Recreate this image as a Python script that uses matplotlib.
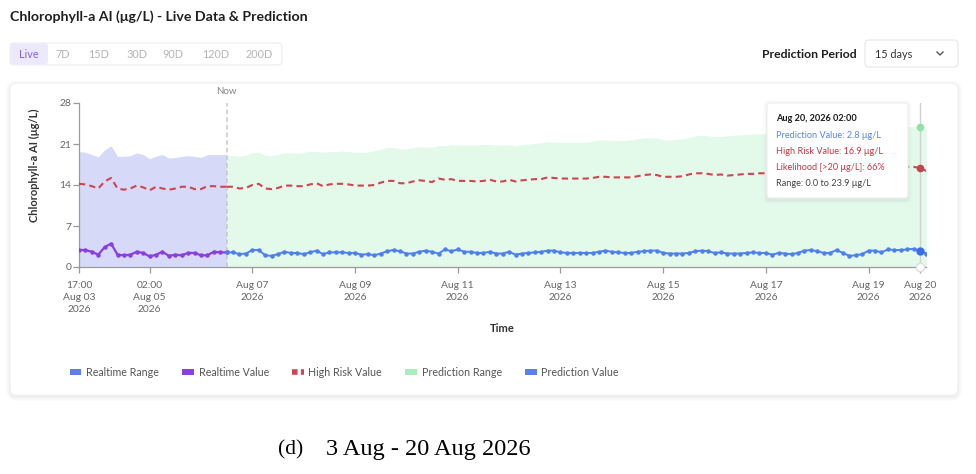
import numpy as np
import matplotlib
matplotlib.use("Agg")
import matplotlib.pyplot as plt
from matplotlib.patches import FancyBboxPatch
from matplotlib.lines import Line2D
from matplotlib.transforms import IdentityTransform

plt.rcParams['font.family'] = ['Lato', 'DejaVu Sans']

# ---- data (3-hourly, starting 2026-08-03 17:00) ----
start = np.datetime64('2026-08-03T17:00')
step = np.timedelta64(3, 'h')

realtime_value = [2.9, 2.9, 2.6, 2.1, 3.4, 4.0, 2.1, 2.0, 2.1, 2.6, 2.4, 1.8,
                  2.1, 2.6, 1.9, 2.1, 2.0, 2.4, 2.4, 2.0, 2.0, 2.6, 2.5, 2.5]
realtime_high_risk = [14.2, 14.1, 13.8, 13.4, 14.6, 15.2, 13.4, 13.2, 13.4, 13.9, 13.6, 13.1,
                      13.7, 13.4, 13.2, 13.4, 13.7, 13.7, 13.3, 13.3, 13.8, 13.8, 13.7, 13.7]
realtime_upper = [19.7, 19.6, 19.2, 18.8, 20.0, 20.7, 18.9, 18.9, 19.0, 19.5, 19.2, 18.5,
                  18.9, 19.2, 18.6, 18.7, 18.9, 19.0, 18.9, 18.7, 19.2, 19.2, 19.2, 19.2]

pred_value = [2.5, 2.5, 2.2, 2.3, 2.9, 2.9, 2.0, 1.9, 2.2, 2.6,
              2.4, 2.4, 2.2, 2.5, 2.8, 2.2, 2.5, 2.5, 2.5, 2.4,
              2.4, 2.1, 2.2, 2.0, 2.3, 2.7, 2.9, 2.7, 2.3, 2.3,
              2.6, 2.8, 2.6, 2.3, 3.0, 2.7, 3.0, 2.6, 2.6, 2.4,
              2.4, 2.6, 2.3, 2.3, 2.6, 2.1, 2.3, 2.4, 2.5, 2.6,
              2.8, 2.8, 2.5, 2.4, 2.4, 2.4, 2.4, 2.4, 2.6, 2.8,
              2.6, 2.5, 2.4, 2.4, 2.6, 2.7, 2.8, 2.8, 2.4, 2.3,
              2.3, 2.3, 2.4, 2.7, 2.8, 2.7, 2.4, 2.5, 2.3, 2.3,
              2.3, 2.4, 2.5, 2.4, 2.4, 2.1, 2.4, 2.3, 2.2, 2.4,
              2.8, 2.9, 2.7, 2.4, 2.4, 2.9, 2.4, 1.9, 2.0, 2.2,
              2.8, 2.8, 2.5, 3.0, 2.9, 2.9, 3.0, 3.1, 2.8, 2.3]
pred_high_risk = [13.7, 13.7, 13.4, 13.5, 14.0, 14.2, 13.4, 13.3, 13.5, 13.9,
                  13.9, 13.8, 13.8, 14.1, 14.3, 13.8, 14.1, 14.2, 14.2, 14.1,
                  13.9, 13.9, 13.9, 14.0, 14.4, 14.7, 14.7, 14.3, 14.3, 14.6,
                  14.8, 14.7, 14.5, 15.1, 14.9, 15.0, 14.7, 14.7, 14.7, 14.6,
                  14.7, 14.9, 14.6, 14.6, 14.9, 14.6, 14.8, 14.9, 15.0, 15.0,
                  15.3, 15.2, 15.1, 15.1, 15.1, 15.1, 15.1, 15.2, 15.4, 15.4,
                  15.3, 15.3, 15.3, 15.3, 15.5, 15.7, 15.8, 15.7, 15.4, 15.4,
                  15.4, 15.5, 15.8, 16.0, 16.0, 15.9, 15.7, 15.8, 15.6, 15.7,
                  15.8, 15.9, 15.9, 16.0, 16.0, 15.9, 16.0, 16.0, 15.9, 16.1,
                  16.3, 16.3, 16.2, 16.2, 16.3, 16.5, 16.4, 16.2, 16.3, 16.5,
                  16.7, 16.7, 16.6, 16.9, 16.9, 17.0, 17.1, 17.1, 16.9, 16.4]
pred_upper = [19.1, 19.0, 18.9, 19.1, 19.5, 19.6, 19.1, 19.0, 19.2, 19.5,
              19.5, 19.4, 19.5, 19.8, 19.7, 19.6, 19.7, 19.7, 19.8, 19.7,
              19.6, 19.6, 19.6, 19.9, 20.1, 20.4, 20.4, 20.2, 20.1, 20.4,
              20.5, 20.5, 20.4, 20.8, 20.7, 20.9, 20.8, 20.8, 20.8, 20.8,
              20.9, 20.9, 20.8, 20.8, 20.9, 20.7, 20.9, 21.0, 21.1, 21.2,
              21.4, 21.3, 21.3, 21.3, 21.3, 21.3, 21.3, 21.5, 21.7, 21.7,
              21.6, 21.6, 21.6, 21.7, 21.9, 22.0, 22.1, 22.0, 21.7, 21.7,
              21.8, 21.9, 22.1, 22.4, 22.5, 22.4, 22.3, 22.3, 22.4, 22.5,
              22.6, 22.6, 22.7, 22.7, 22.8, 22.7, 22.8, 22.9, 22.9, 23.0,
              23.2, 23.2, 23.1, 23.1, 23.2, 23.4, 23.3, 23.1, 23.2, 23.3,
              23.6, 23.6, 23.5, 23.8, 23.8, 23.8, 23.9, 24.0, 23.9, 23.5]

rt_times = start + step * np.arange(len(realtime_value))
pred_times = rt_times[-1] + step * np.arange(len(pred_value))
now_time = rt_times[-1]
hover = 108  # Aug 20 02:00

tick_times = [np.datetime64('2026-08-03T17:00'), np.datetime64('2026-08-05T02:00'),
              np.datetime64('2026-08-07T02:00'), np.datetime64('2026-08-09T02:00'),
              np.datetime64('2026-08-11T02:00'), np.datetime64('2026-08-13T02:00'),
              np.datetime64('2026-08-15T02:00'), np.datetime64('2026-08-17T02:00'),
              np.datetime64('2026-08-19T02:00'), np.datetime64('2026-08-20T02:00')]
tick_labels = ['17:00\nAug 03\n2026', '02:00\nAug 05\n2026', 'Aug 07\n2026', 'Aug 09\n2026',
               'Aug 11\n2026', 'Aug 13\n2026', 'Aug 15\n2026', 'Aug 17\n2026',
               'Aug 19\n2026', 'Aug 20\n2026']
range_buttons = ['Live', '7D', '15D', '30D', '90D', '120D', '200D']
button_x = [29, 63, 99, 137, 173, 216, 259]

# colours
c_rt_fill = '#d6d9f8'
c_pr_fill = '#e3f9ea'
c_rt_line = '#8a3fe0'
c_pr_line = '#4d7ff0'
c_risk = '#d0434f'

W, H = 976, 474
fig = plt.figure(figsize=(W / 100, H / 100), dpi=100)
fig.patch.set_facecolor('white')


def rbox(x0, y0, x1, y1, r, fc, ec='none', lw=0.8, z=-5, alpha=1.0):
    p = FancyBboxPatch((x0, H - y1), x1 - x0, y1 - y0,
                       boxstyle=f"round,pad=0,rounding_size={r}",
                       transform=IdentityTransform(), fc=fc, ec=ec, lw=lw,
                       zorder=z, alpha=alpha)
    fig.add_artist(p)
    return p


def ftext(x, y, s, **kw):
    return fig.text(x / W, 1 - y / H, s, **kw)


# header
ftext(10, 17, 'Chlorophyll-a AI (μg/L) - Live Data & Prediction', fontsize=10.2,
      fontweight='bold', color='#1f1f1f', va='center', ha='left')
rbox(10, 43, 282, 65, 4, 'white', ec='#ececec', z=-4)
rbox(10.5, 43.5, 48, 64.5, 3.5, '#ede9fd', z=-3)
for lbl, bx in zip(range_buttons, button_x):
    ftext(bx, 54, lbl, fontsize=7.8, va='center', ha='center',
          color='#8b5cf6' if lbl == 'Live' else '#b5b5b5')
ftext(857, 54, 'Prediction Period', fontsize=8.8, fontweight='bold', color='#1f1f1f',
      va='center', ha='right')
rbox(865, 40, 958, 67, 4, 'white', ec='#e6e6e6', z=-4)
ftext(875, 54, '15 days', fontsize=7.8, color='#333333', va='center', ha='left')
fig.add_artist(Line2D([937, 940, 943], [H - 52, H - 55, H - 52], transform=IdentityTransform(),
                      color='#555555', lw=1.0))

# card with soft shadow
for i, a in enumerate([0.05, 0.04, 0.03]):
    d = 1 + i * 1.5
    rbox(10 - d, 83 - d + 2, 958 + d, 395 + d + 2, 6 + d, '#888888', z=-8, alpha=a)
rbox(10, 83, 958, 395, 6, 'white', ec='#f0f0f0', z=-6)

# chart
ax = fig.add_axes([79 / W, 207 / H, 847.4 / W, 164 / H])
ax.set_facecolor('none')
ax.fill_between(rt_times, 0, realtime_upper, color=c_rt_fill, lw=0, zorder=1)
ax.fill_between(pred_times, 0, pred_upper, color=c_pr_fill, lw=0, zorder=1)
ax.plot(rt_times, realtime_high_risk, color=c_risk, lw=1.5, dashes=(3, 2), zorder=3)
ax.plot(pred_times, pred_high_risk, color=c_risk, lw=1.5, dashes=(3, 2), zorder=3)
ax.plot(rt_times, realtime_value, color=c_rt_line, lw=1.6, marker='o', ms=2.2, zorder=4)
ax.plot(pred_times, pred_value, color=c_pr_line, lw=1.4, marker='o', ms=2.2, zorder=4)

ax.axvline(now_time, color='#c8c8c8', lw=1.1, dashes=(3, 2), zorder=2)
ax.annotate('Now', (now_time, 28), xytext=(0, 5), textcoords='offset points',
            ha='center', va='bottom', fontsize=7, color='#888888', annotation_clip=False)

# hover marker
ht = pred_times[hover]
ax.axvline(ht, color='#d0d0d0', lw=1.0, zorder=2)
ax.plot([ht], [pred_upper[hover]], 'o', color='#8fe3a8', ms=4.5, zorder=5, clip_on=False)
ax.plot([ht], [pred_high_risk[hover]], 'o', color='#c4444c', ms=4.5, zorder=5)
ax.plot([ht], [pred_value[hover]], 'o', color='#3c6de8', ms=5, zorder=5)
ax.plot([ht], [0], 'o', mfc='white', mec='#dddddd', ms=6, zorder=6, clip_on=False)

ax.set_xlim(rt_times[0], pred_times[-1])
ax.set_ylim(0, 28)
ax.set_yticks([0, 7, 14, 21, 28])
ax.set_xticks(tick_times)
ax.set_xticklabels(tick_labels)
for lbl in ax.get_xticklabels():
    lbl.set_linespacing(1.45)
for s in ['top', 'right']:
    ax.spines[s].set_visible(False)
for s in ['left', 'bottom']:
    ax.spines[s].set_color('#9a9a9a')
    ax.spines[s].set_linewidth(0.9)
ax.tick_params(axis='both', colors='#9a9a9a', labelcolor='#666666', labelsize=7.4,
               length=4, width=0.9)
ax.tick_params(axis='x', pad=6)
ax.tick_params(axis='y', pad=1.5)
ax.set_ylabel('Chlorophyll-a AI (μg/L)', fontsize=8, fontweight='bold', color='#333333')
ax.yaxis.set_label_coords(-0.046, 0.62)
ax.set_xlabel('Time', fontsize=8, fontweight='bold', color='#333333')
ax.xaxis.set_label_coords(0.5, -0.34)

# tooltip
for i, a in enumerate([0.05, 0.035, 0.02]):
    d = 1 + i * 1.5
    rbox(767 - d, 103 - d + 1, 908 + d, 198 + d + 2, 3 + d, '#777777', z=8, alpha=a)
rbox(767, 103, 908, 198, 3, 'white', ec='#eeeeee', z=9)
tip = [('Aug 20, 2026 02:00', '#1a1a1a', 'bold'),
       (f'Prediction Value: {pred_value[hover]:.1f} μg/L', '#5b83ee', 'normal'),
       (f'High Risk Value: {pred_high_risk[hover]:.1f} μg/L', '#cc3444', 'normal'),
       ('Likelihood [>20 μg/L]: 66%', '#cc3444', 'normal'),
       (f'Range: 0.0 to {pred_upper[hover]:.1f} μg/L', '#444444', 'normal')]
for i, (s, c, w) in enumerate(tip):
    ftext(776, 119 + 16 * i, s, fontsize=6.6, color=c, fontweight=w, va='center', ha='left',
          zorder=10)

# legend
leg_handles = [plt.Rectangle((0, 0), 1, 1, fc='#5b80ea'),
               plt.Rectangle((0, 0), 1, 1, fc='#8a3fe0'),
               Line2D([], [], color=c_risk, lw=4, dashes=(1, 0.6)),
               plt.Rectangle((0, 0), 1, 1, fc='#a8efc0'),
               plt.Rectangle((0, 0), 1, 1, fc='#5b80ea')]
leg_labels = ['Realtime Range', 'Realtime Value', 'High Risk Value', 'Prediction Range',
              'Prediction Value']
leg = fig.legend(leg_handles, leg_labels, loc='center left', bbox_to_anchor=(60 / W, 1 - 372 / H),
                 ncol=5, frameon=False, fontsize=7.7, handlelength=1.1, handleheight=0.45,
                 handletextpad=0.45, columnspacing=2.15, labelcolor='#555555')

# caption
ftext(278, 450, '(d)', fontsize=15.5, family='Liberation Serif', va='center', ha='left',
      color='black')
ftext(326, 450, '3 Aug - 20 Aug 2026', fontsize=17.5, family='Liberation Serif', va='center',
      ha='left', color='black')

fig.savefig('out.png', dpi=100)
